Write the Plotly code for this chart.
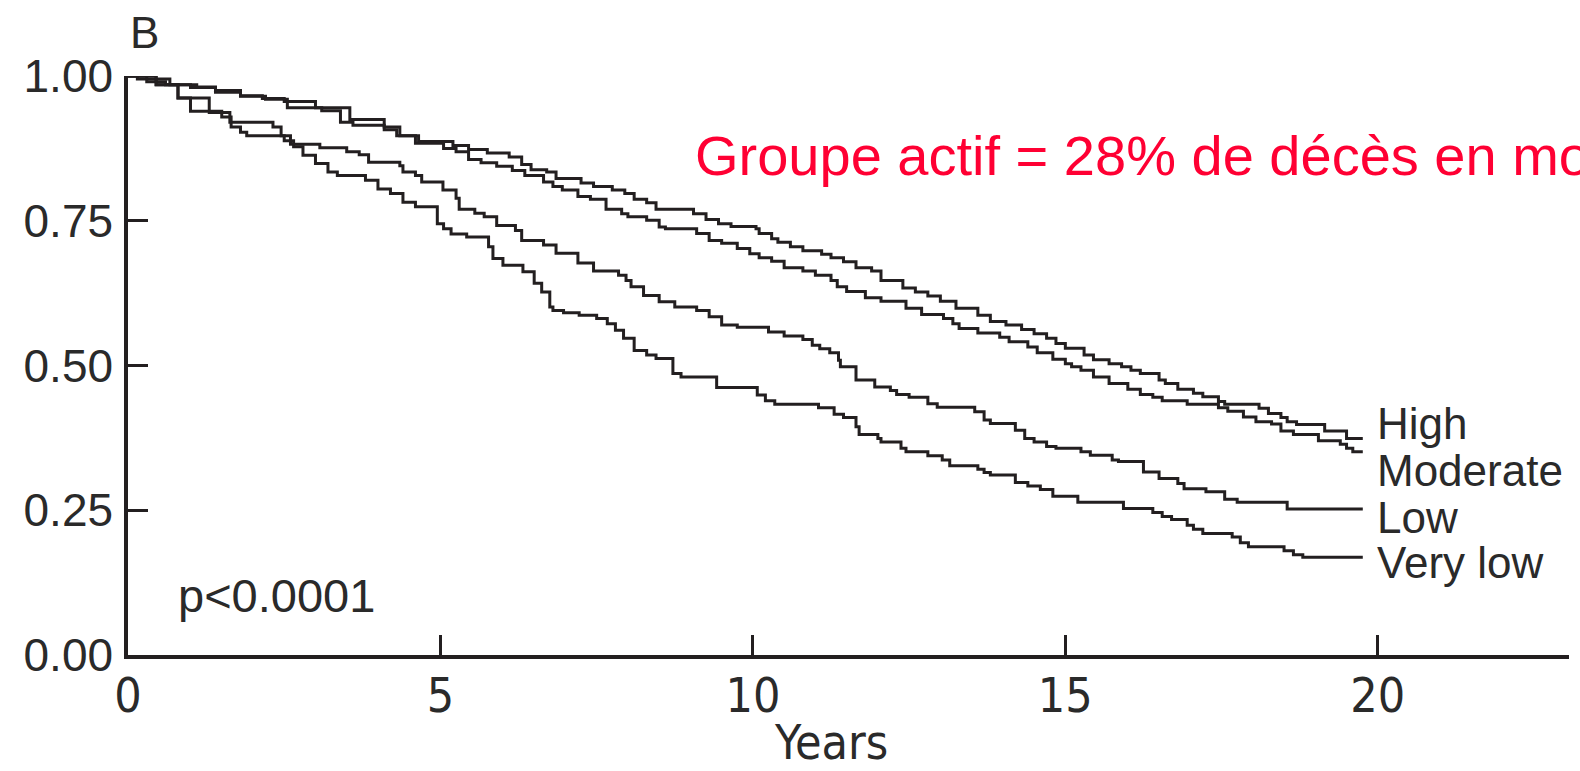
import plotly.graph_objects as go

# ---- data (Kaplan-Meier step curves) ----
high_t = [0, 0.15, 0.67, 1.1, 1.4, 1.8, 2.15, 2.5, 3.0, 3.55, 4.1, 4.35, 4.65, 5.2, 5.45, 5.75, 6.1, 6.3, 6.45, 6.7,
          6.85, 7.25, 7.45, 7.75, 7.95, 8.1, 8.3, 8.45, 9.05, 9.25, 9.45, 9.65, 10.05, 10.1, 10.3, 10.4, 10.6, 10.8,
          11.1, 11.25, 11.45, 11.65, 11.9, 12.05, 12.4, 12.6, 12.8, 13.0, 13.25, 13.6, 13.8, 14.05, 14.3, 14.5, 14.7,
          14.85, 15.0, 15.3, 15.45, 15.7, 15.9, 16.05, 16.2, 16.5, 16.6, 16.8, 17.05, 17.2, 17.45, 17.55, 18.1, 18.25,
          18.45, 18.55, 18.7, 19.15, 19.5, 19.76]
high_s = [1.0, 0.995, 0.985, 0.981, 0.975, 0.966, 0.961, 0.956, 0.945, 0.925, 0.912, 0.897, 0.887, 0.880, 0.873,
          0.867, 0.860, 0.847, 0.838, 0.834, 0.823, 0.815, 0.809, 0.803, 0.797, 0.787, 0.781, 0.770, 0.762, 0.752,
          0.745, 0.740, 0.736, 0.728, 0.719, 0.713, 0.705, 0.698, 0.692, 0.686, 0.679, 0.669, 0.663, 0.647, 0.634,
          0.627, 0.620, 0.611, 0.599, 0.587, 0.576, 0.570, 0.562, 0.555, 0.547, 0.538, 0.530, 0.518, 0.510, 0.503,
          0.498, 0.492, 0.486, 0.475, 0.469, 0.459, 0.452, 0.446, 0.438, 0.433, 0.426, 0.417, 0.410, 0.403, 0.398,
          0.387, 0.374, 0.374]

moderate_t = [0, 0.3, 0.6, 1.0, 1.4, 1.8, 2.2, 2.55, 3.1, 3.4, 3.6, 4.1, 4.3, 4.6, 5.05, 5.25, 5.45, 5.65, 5.9,
              6.15, 6.35, 6.65, 6.8, 6.95, 7.2, 7.4, 7.65, 7.9, 8.0, 8.3, 8.5, 8.6, 9.1, 9.3, 9.5, 9.75, 9.95, 10.1,
              10.3, 10.5, 10.8, 11.0, 11.25, 11.35, 11.5, 11.8, 12.05, 12.45, 12.7, 13.05, 13.2, 13.3, 13.6, 13.95,
              14.1, 14.4, 14.55, 14.8, 15.0, 15.1, 15.25, 15.45, 15.7, 16.0, 16.2, 16.4, 16.55, 16.95, 17.45, 17.6,
              17.85, 18.05, 18.3, 18.45, 18.65, 19.05, 19.4, 19.5, 19.6, 19.76]
moderate_s = [1.0, 0.990, 0.985, 0.980, 0.972, 0.965, 0.960, 0.945, 0.940, 0.920, 0.915, 0.907, 0.897, 0.884,
              0.875, 0.869, 0.856, 0.850, 0.844, 0.837, 0.828, 0.817, 0.809, 0.803, 0.792, 0.787, 0.770, 0.762,
              0.757, 0.751, 0.739, 0.736, 0.728, 0.716, 0.711, 0.702, 0.693, 0.686, 0.680, 0.669, 0.663, 0.656,
              0.647, 0.636, 0.628, 0.617, 0.611, 0.599, 0.588, 0.581, 0.572, 0.564, 0.556, 0.549, 0.541, 0.532,
              0.522, 0.511, 0.503, 0.498, 0.492, 0.480, 0.469, 0.459, 0.450, 0.445, 0.439, 0.433, 0.427, 0.421,
              0.411, 0.403, 0.399, 0.387, 0.381, 0.370, 0.364, 0.357, 0.351, 0.351]

low_t = [0, 0.45, 0.8, 1.3, 1.63, 2.32, 2.45, 2.6, 3.07, 3.5, 3.7, 3.85, 4.35, 4.4, 4.6, 4.7, 5.04, 5.25, 5.3, 5.55,
         5.7, 5.9, 6.2, 6.3, 6.65, 6.85, 7.2, 7.45, 7.85, 7.97, 8.05, 8.25, 8.5, 8.75, 9.1, 9.3, 9.5, 9.75, 10.25,
         10.5, 10.8, 10.95, 11.07, 11.23, 11.37, 11.4, 11.65, 11.95, 12.2, 12.3, 12.5, 12.8, 12.95, 13.55, 13.7,
         13.8, 14.2, 14.35, 14.5, 14.7, 14.85, 15.25, 15.4, 15.75, 15.85, 16.25, 16.5, 16.8, 16.9, 17.25, 17.55,
         17.75, 18.55, 19.76]
low_s = [1.0, 0.985, 0.962, 0.937, 0.920, 0.912, 0.897, 0.882, 0.876, 0.869, 0.864, 0.851, 0.845, 0.834, 0.828,
         0.817, 0.803, 0.789, 0.770, 0.763, 0.757, 0.742, 0.733, 0.716, 0.708, 0.694, 0.677, 0.663, 0.656, 0.647,
         0.636, 0.621, 0.610, 0.601, 0.595, 0.584, 0.570, 0.566, 0.558, 0.551, 0.545, 0.535, 0.529, 0.522, 0.509,
         0.498, 0.475, 0.463, 0.457, 0.450, 0.445, 0.434, 0.428, 0.420, 0.406, 0.400, 0.388, 0.374, 0.368, 0.360,
         0.357, 0.351, 0.345, 0.337, 0.334, 0.316, 0.305, 0.296, 0.287, 0.282, 0.269, 0.264, 0.252, 0.252]

verylow_t = [0, 0.45, 0.8, 1.0, 1.5, 1.65, 1.8, 1.9, 2.5, 2.65, 2.8, 3.0, 3.2, 3.35, 3.8, 4.0, 4.2, 4.4, 4.6, 4.95,
             5.05, 5.17, 5.42, 5.77, 5.84, 6.0, 6.32, 6.5, 6.62, 6.75, 6.8, 6.97, 7.22, 7.5, 7.67, 7.8, 7.93, 8.1,
             8.3, 8.45, 8.72, 8.85, 9.42, 10.07, 10.2, 10.35, 11.05, 11.3, 11.45, 11.65, 11.7, 12.0, 12.05, 12.37,
             12.45, 12.8, 13.03, 13.15, 13.6, 13.7, 13.8, 14.2, 14.4, 14.6, 14.8, 15.2, 15.93, 16.4, 16.55, 16.7,
             16.95, 17.05, 17.2, 17.67, 17.8, 17.93, 18.5, 18.65, 18.8, 19.76]
verylow_s = [1.0, 0.985, 0.962, 0.939, 0.929, 0.912, 0.903, 0.897, 0.888, 0.878, 0.863, 0.849, 0.834, 0.828, 0.820,
             0.805, 0.797, 0.782, 0.774, 0.745, 0.736, 0.727, 0.722, 0.705, 0.685, 0.673, 0.662, 0.642, 0.627,
             0.601, 0.595, 0.591, 0.587, 0.581, 0.572, 0.561, 0.547, 0.526, 0.518, 0.512, 0.486, 0.480, 0.462,
             0.449, 0.439, 0.433, 0.427, 0.416, 0.410, 0.394, 0.381, 0.374, 0.368, 0.357, 0.351, 0.344, 0.337,
             0.327, 0.321, 0.315, 0.311, 0.298, 0.292, 0.286, 0.274, 0.264, 0.253, 0.246, 0.239, 0.234, 0.224,
             0.217, 0.210, 0.204, 0.194, 0.187, 0.180, 0.173, 0.169, 0.169]

group_names = ["High", "Moderate", "Low", "Very low"]
label_y = [0.400, 0.318, 0.237, 0.160]   # where the curve labels sit (data units)
x_ticks = [0, 5, 10, 15, 20]
y_ticks = [0.0, 0.25, 0.5, 0.75, 1.0]
y_ticklabels = ["0.00", "0.25", "0.50", "0.75", "1.00"]

INK = "#231f20"
TXT = "#2a2a2a"
SANS = "Liberation Sans, Arial, sans-serif"
NARROW = "Liberation Sans Narrow, DejaVu Sans Condensed, Liberation Sans, Arial, sans-serif"

fig = go.Figure()
series = [(high_t, high_s), (moderate_t, moderate_s), (low_t, low_s), (verylow_t, verylow_s)]
for name, (t, s), ly in zip(group_names, series, label_y):
    n = min(len(t), len(s))
    fig.add_trace(go.Scatter(x=t[:n], y=s[:n], mode="lines", line=dict(shape="hv", color=INK, width=3),
                             name=name, showlegend=False, cliponaxis=False, hoverinfo="x+y+name"))
    fig.add_annotation(x=19.95, y=ly, xref="x", yref="y", text=name, showarrow=False,
                       xanchor="left", yanchor="middle", font=dict(family=SANS, size=44, color=TXT))

fig.update_layout(
    width=1580, height=771,
    margin=dict(l=128, r=11, t=76, b=116),
    plot_bgcolor="white", paper_bgcolor="white",
    xaxis=dict(range=[0, 23.06], tickvals=x_ticks, ticktext=[str(v) for v in x_ticks],
               showline=True, linecolor=INK, linewidth=3.5, ticks="inside", ticklen=20, tickwidth=2.5,
               tickcolor=INK, showgrid=False, zeroline=False,
               tickfont=dict(family=NARROW, size=48, color=TXT), ticklabelstandoff=-4),
    yaxis=dict(range=[0, 1], tickvals=y_ticks, ticktext=y_ticklabels,
               showline=True, linecolor=INK, linewidth=3.5, ticks="inside", ticklen=20, tickwidth=2.5,
               tickcolor=INK, showgrid=False, zeroline=False,
               tickfont=dict(family=SANS, size=46, color=TXT), ticklabelstandoff=2),
)

# "B" panel letter
fig.add_annotation(x=0.0, y=1.075, xref="paper", yref="paper", text="B", showarrow=False,
                   xanchor="left", yanchor="middle", font=dict(family=SANS, size=44, color=TXT))
# axis title
fig.add_annotation(x=11.25, y=-0.2, xref="x", yref="paper", text="Years", showarrow=False,
                   xanchor="center", yanchor="bottom", borderpad=0, font=dict(family=NARROW, size=48, color=TXT))
# p value
fig.add_annotation(x=0.77, y=0.102, xref="x", yref="y", text="p<0.0001", showarrow=False,
                   xanchor="left", yanchor="middle", font=dict(family=SANS, size=47, color=TXT))
# red overlay text
fig.add_annotation(x=(693 - 128) / 1441, y=(655 - 155) / 579.4, xref="paper", yref="paper",
                   text="Groupe actif = 28% de décès en moins", showarrow=False,
                   xanchor="left", yanchor="middle", font=dict(family=SANS, size=56, color="#ff0033"))

fig.write_html("out.html", config={"displayModeBar": False},
               post_script="document.body.style.margin='0';document.body.style.overflow='hidden';")
